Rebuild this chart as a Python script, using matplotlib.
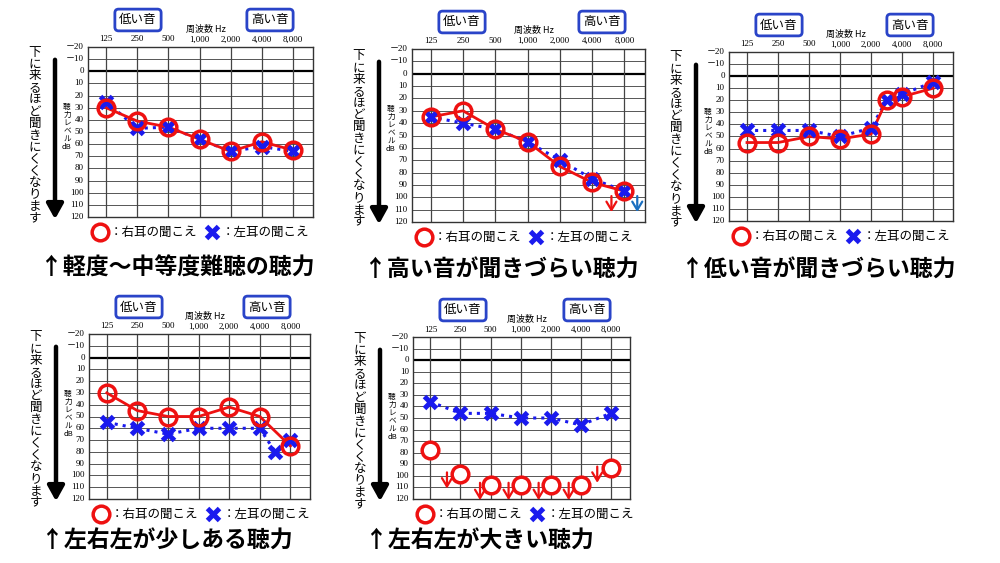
import matplotlib
matplotlib.use("Agg")
import matplotlib.pyplot as plt

plt.rcParams['font.family'] = ['Noto Sans CJK JP', 'DejaVu Sans']

freq_labels = ["125", "250", "500", "1,000", "2,000", "4,000", "8,000"]
db_ticks = list(range(-20, 121, 10))

# chart 1
c1_rx = [0, 1, 2, 3, 4, 5, 6]; c1_r = [30, 41, 46, 56, 66, 58, 65]
c1_lx = [0, 1, 2, 3, 4, 5, 6]; c1_l = [25, 47, 46, 56, 66, 62, 66]
# chart 2
c2_rx = [0, 1, 2, 3, 4, 5, 6]; c2_r = [35, 30, 45, 55, 75, 88, 95]
c2_lx = [0, 1, 2, 3, 4, 5, 6]; c2_l = [35, 40, 45, 55, 70, 85, 95]
# chart 3
c3_rx = [0, 1, 2, 3, 4, 4.5, 5, 6]; c3_r = [55, 55, 50, 52, 48, 20, 17, 10]
c3_lx = [0, 1, 2, 3, 4, 4.5, 5, 6]; c3_l = [45, 45, 45, 50, 43, 20, 15, 5]
# chart 4
c4_rx = [0, 1, 2, 3, 4, 5, 6]; c4_r = [30, 45, 50, 50, 42, 50, 75]
c4_lx = [0, 1, 2, 3, 4, 5, 5.5, 6]; c4_l = [55, 60, 65, 60, 60, 60, 80, 70]
# chart 5
c5_rx = [0, 1, 2, 3, 4, 5, 6]; c5_r = [78, 98, 108, 108, 108, 108, 93]
c5_lx = [0, 1, 2, 3, 4, 5, 6]; c5_l = [36, 46, 46, 50, 50, 56, 46]

W, H = 1000, 563
fig = plt.figure(figsize=(10, 5.63), dpi=100)
fig.patch.set_facecolor('white')

RED = '#ee1111'
BLUE = '#1a1aee'
BOXC = '#2a44c8'

def px(x, y):
    return x / W, 1 - y / H

def arrow(ax, x, y0, y1, color):
    ax.annotate("", xy=(x, y1), xytext=(x, y0),
                arrowprops=dict(arrowstyle='->,head_width=0.3,head_length=0.5', color=color,
                                lw=1.6, mutation_scale=12, shrinkA=0, shrinkB=0),
                annotation_clip=False)

def panel(L, T, R, B, rx, r, lx, l, caption, cap_y, r_connect=True, red_arrows=(), blue_arrows=()):
    ax = fig.add_axes([L / W, 1 - B / H, (R - L) / W, (B - T) / H])
    ax.set_xlim(-0.58, 6.64)
    ax.set_ylim(120, -20)
    for v in db_ticks:
        ax.axhline(v, color='black' if v == 0 else '#555555', lw=1.6 if v == 0 else 0.7, zorder=1)
    for i in range(7):
        ax.axvline(i, color='#444444', lw=0.9, zorder=1)
    ax.set_xticks([]); ax.set_yticks([])
    for s in ax.spines.values():
        s.set_color('#333333'); s.set_linewidth(1.0)
    for v in db_ticks:
        lab = ("－" + str(-v)) if v < 0 else str(v)
        ax.text(-0.72, v, lab, ha='right', va='center', fontsize=6.5,
                family=['Liberation Serif', 'Noto Sans CJK JP'], clip_on=False)
    for i, f in enumerate(freq_labels):
        ax.text(i, -23, f, ha='center', va='bottom', fontsize=6.5,
                family=['Liberation Serif'], clip_on=False)
    ax.text(3.2, -31, "周波数 Hz", ha='center', va='bottom', fontsize=6.5, clip_on=False)
    ax.plot(lx, l, color=BLUE, ls=':', lw=2.2, zorder=3)
    ax.plot(lx, l, ls='none', marker='x', color=BLUE, ms=9, mew=3.6, zorder=5, clip_on=False)
    if r_connect:
        ax.plot(rx, r, color=RED, lw=2, zorder=4)
        ax.plot(rx, r, ls='none', marker='o', mfc='none', mec=RED, ms=12, mew=2.5, zorder=6)
    else:
        ax.plot(rx, r, ls='none', marker='o', mfc='white', mec=RED, ms=12, mew=2.5, zorder=4,
                clip_on=False)
    for (x, y0, y1) in red_arrows:
        arrow(ax, x, y0, y1, RED)
    for (x, y0, y1) in blue_arrows:
        arrow(ax, x, y0, y1, '#1a6fc0')
    for (bx, txt) in ((L + 50, "低い音"), (R - 43, "高い音")):
        fig.text(*px(bx, T - 27), txt, ha='center', va='center', fontsize=9,
                 bbox=dict(boxstyle='round,pad=0.35,rounding_size=0.3', fc='white', ec=BOXC, lw=2))
    fig.text(*px(L - 53, (T + B) / 2 + 3), "\n".join("下に来るほど聞きにくくなります"),
             ha='center', va='center', fontsize=9, linespacing=0.88)
    fig.add_artist(matplotlib.patches.FancyArrowPatch(
        px(L - 33, T + 10), px(L - 33, B + 5), transform=fig.transFigure,
        arrowstyle='-|>,head_width=5,head_length=9', color='black', lw=3.2))
    fig.text(*px(L - 21, T + 80), "\n".join("聴力レベル") + "\ndB", ha='center', va='center',
             fontsize=5.5, linespacing=1.0)
    lax = fig.add_axes([L / W, 1 - (B + 25) / H, (R - L) / W, 20 / H])
    lax.set_xlim(L, R); lax.set_ylim(20, 0); lax.axis('off')
    lax.plot([L + 12], [10], marker='o', mfc='white', mec=RED, ms=12, mew=2.5, clip_on=False)
    lax.text(L + 22, 10, "：右耳の聞こえ", va='center', fontsize=9)
    lax.plot([L + 124], [10], marker='x', color=BLUE, ms=9, mew=3.6, clip_on=False)
    lax.text(L + 134, 10, "：左耳の聞こえ", va='center', fontsize=9)
    fig.text(*px(L - 48, cap_y), caption, ha='left', va='center', fontsize=16.5, weight='bold')
    return ax

panel(88, 47, 313, 217, c1_rx, c1_r, c1_lx, c1_l, "↑軽度～中等度難聴の聴力", 268)
panel(412, 49, 645, 222, c2_rx, c2_r, c2_lx, c2_l, "↑高い音が聞きづらい聴力", 270,
      red_arrows=[(5.6, 99, 112)], blue_arrows=[(6.4, 99, 112)])
panel(729, 52, 953, 221, c3_rx, c3_r, c3_lx, c3_l, "↑低い音が聞きづらい聴力", 270)
panel(89, 334, 310, 499, c4_rx, c4_r, c4_lx, c4_l, "↑左右左が少しある聴力", 541)
panel(413, 337, 630, 499, c5_rx, c5_r, c5_lx, c5_l, "↑左右左が大きい聴力", 541, r_connect=False,
      red_arrows=[(0.55, 97, 111), (1.65, 106, 121), (2.6, 106, 121), (3.6, 106, 121),
                  (4.6, 106, 121), (5.55, 92, 106)])

fig.savefig("out.png", dpi=100, facecolor='white')
